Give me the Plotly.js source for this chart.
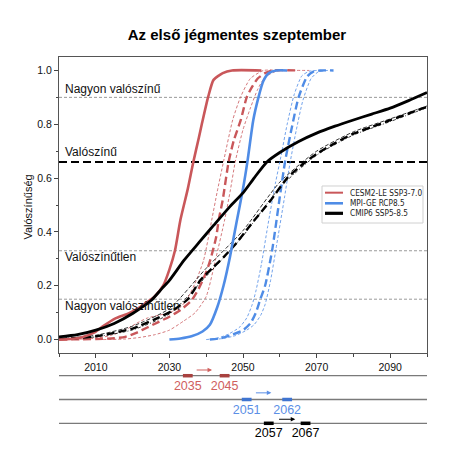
<!DOCTYPE html>
<html><head><meta charset="utf-8">
<script src="https://cdn.plot.ly/plotly-3.0.1.min.js"></script>
<style>html,body{margin:0;padding:0;background:#fff}#chart{width:474px;height:474px}</style>
</head><body><div id="chart"></div>
<script>
// ---- data ----
const cesmSolidX = [2000,2003,2006,2009.8,2012,2015.2,2018.9,2021,2023.4,2026,2028.3,2030,2031.5,2033,2035,2036.5,2038,2038.8,2040.5,2042,2044.5,2047,2055];
const cesmSolidY = [0,0.002,0.008,0.028,0.05,0.078,0.097,0.112,0.134,0.16,0.2,0.26,0.33,0.445,0.56,0.66,0.75,0.8,0.9,0.965,0.99,1.0,1.0];
const cesmDashX = [2000,2010,2015,2018,2021,2024,2027,2030,2033,2036,2038,2040,2041.1,2042.7,2043.4,2044.5,2046.1,2047.5,2049.4,2051,2052.5,2054,2056,2058,2064.7];
const cesmDashY = [0,0.002,0.005,0.01,0.025,0.045,0.065,0.085,0.11,0.145,0.19,0.25,0.295,0.38,0.444,0.52,0.661,0.74,0.816,0.9,0.94,0.97,0.99,1.0,1.0];
const cesmLoX = [2003,2010,2014,2018,2021,2024,2027,2030,2033,2035,2037,2039.3,2041.5,2043,2044.7,2047.2,2049.3,2052,2055.6,2060];
const cesmLoY = [0,0.005,0.015,0.035,0.06,0.08,0.09,0.1,0.12,0.155,0.21,0.295,0.444,0.55,0.661,0.816,0.9,0.97,1.0,1.0];
const cesmHiX = [2012,2018,2022,2026,2030,2034,2037,2040,2042.5,2045,2046.5,2047.9,2050,2052,2054,2056,2059,2062,2068];
const cesmHiY = [0,0.002,0.008,0.018,0.035,0.07,0.1,0.16,0.295,0.444,0.55,0.661,0.78,0.86,0.93,0.975,0.997,1.0,1.0];

const mpiSolidX = [2030,2033,2036,2039,2041,2043,2044.7,2046.5,2048.3,2050,2051.2,2052.8,2054.2,2055.5,2057,2059,2062];
const mpiSolidY = [0,0.004,0.012,0.03,0.055,0.12,0.2,0.31,0.44,0.56,0.661,0.816,0.9,0.96,0.99,1.0,1.0];
const mpiDashX = [2041,2044,2047,2050,2052,2053.5,2054.7,2056,2057.9,2060,2061.5,2063.3,2065.1,2067.4,2069,2071,2074.6];
const mpiDashY = [0,0.005,0.018,0.035,0.06,0.1,0.15,0.2,0.33,0.53,0.667,0.79,0.9,0.977,0.995,1.0,1.0];
const mpiLoX = [2040,2043,2046,2049,2051,2052.5,2053.5,2055,2056.7,2058.8,2060.3,2062,2063.9,2066,2068,2070,2073];
const mpiLoY = [0,0.005,0.02,0.045,0.08,0.13,0.18,0.28,0.42,0.58,0.68,0.8,0.91,0.98,0.997,1.0,1.0];
const mpiHiX = [2042,2045,2048,2051,2053,2054.8,2056,2057.5,2059,2061.3,2062.7,2064.5,2066.3,2068.5,2070.5,2073,2075];
const mpiHiY = [0,0.005,0.015,0.035,0.055,0.09,0.13,0.22,0.34,0.53,0.65,0.78,0.89,0.97,0.995,1.0,1.0];

const cmipSolidX = [2000,2005,2010,2015,2020,2025,2028,2030,2034,2038,2042,2046.5,2050,2053,2056.5,2060,2065,2070,2075,2080,2085,2090,2095,2100];
const cmipSolidY = [0.01,0.018,0.035,0.06,0.097,0.145,0.19,0.22,0.295,0.36,0.424,0.495,0.545,0.6,0.66,0.695,0.735,0.767,0.793,0.816,0.838,0.86,0.888,0.918];
const cmipDashX = [2000,2005,2010,2015,2020,2026,2031,2035,2038.4,2042,2045,2048.3,2052,2057.4,2062,2067,2070,2075,2080,2085,2090,2095,2100];
const cmipDashY = [0.002,0.006,0.012,0.025,0.041,0.075,0.109,0.15,0.22,0.27,0.31,0.36,0.425,0.515,0.6,0.66,0.69,0.73,0.765,0.79,0.815,0.84,0.865];
const cmipThinX = [2000,2010,2020,2030,2040,2050,2060,2070,2080,2090,2100];
const cmipThinAY = [0.003,0.016,0.05,0.115,0.265,0.405,0.585,0.7,0.772,0.82,0.868];
const cmipThinBY = [0.0,0.01,0.036,0.095,0.235,0.385,0.565,0.685,0.76,0.81,0.862];

const thresholds = [0.9, 0.66, 0.33, 0.15];
const thresholdLabels = ['Nagyon valószínű','Valószínű','Valószínűtlen','Nagyon valószínűtlen'];
const labelY = [0.930, 0.698, 0.305, 0.124];

const seriesNames = ['CESM2-LE SSP3-7.0','MPI-GE RCP8.5','CMIP6 SSP5-8.5'];
const firstYears = [[2035, 2045],[2051, 2062],[2057, 2067]];
const rowIndex = [3, 2, 1];
const arrowFrom = [2037.0, 2053.1, 2059.4];
const arrowTo = [2041.6, 2057.7, 2064.2];

const RED = '#c9575a', BLUE = '#4f8ce6', BLACK = '#000000';
const seriesColors = [RED, BLUE, BLACK];
const markColors = ['#a8413f','#3f74d0','#000000'];
const textColors = ['#d0605e','#5b8fe6','#000000'];

function line(x, y, color, width, dash, name){
  return {x:x, y:y, type:'scatter', mode:'lines', name:name||'', showlegend:false,
    line:{color:color, width:width, dash:dash||'solid', shape:'spline', smoothing:0.6},
    hoverinfo:'skip', xaxis:'x', yaxis:'y'};
}

const traces = [
  line(cesmLoX, cesmLoY, RED, 0.8, '3px,2px'),
  line(cesmHiX, cesmHiY, RED, 0.8, '3px,2px'),
  line(mpiLoX, mpiLoY, BLUE, 0.8, '3px,2px'),
  line(mpiHiX, mpiHiY, BLUE, 0.8, '3px,2px'),
  line(cmipThinX, cmipThinAY, BLACK, 0.8, '4px,2px'),
  line(cmipThinX, cmipThinBY, BLACK, 0.8, '3px,2px,1px,2px'),
  line(cesmDashX, cesmDashY, RED, 2.4, '8px,4px'),
  line(mpiDashX, mpiDashY, BLUE, 2.4, '8px,4px'),
  line(cmipDashX, cmipDashY, BLACK, 2.4, '8px,4px'),
  line(cesmSolidX, cesmSolidY, RED, 2.6, 'solid', seriesNames[0]),
  line(mpiSolidX, mpiSolidY, BLUE, 2.6, 'solid', seriesNames[1]),
  line(cmipSolidX, cmipSolidY, BLACK, 2.8, 'solid', seriesNames[2])
];

// timeline markers and labels
for (let i = 0; i < 3; i++) {
  traces.push({x:firstYears[i], y:firstYears[i].map(()=>rowIndex[i]), type:'scatter', mode:'markers',
    marker:{symbol:'line-ew', size:7, line:{color:markColors[i], width:3.5}},
    showlegend:false, hoverinfo:'skip', xaxis:'x2', yaxis:'y2', cliponaxis:false});
  traces.push({x:firstYears[i], y:firstYears[i].map(()=>rowIndex[i]-0.46), type:'scatter', mode:'text',
    text:firstYears[i].map(String), textposition:'middle center',
    textfont:{family:'Liberation Sans, Arial, sans-serif', size:12.5, color:textColors[i]},
    showlegend:false, hoverinfo:'skip', xaxis:'x2', yaxis:'y2', cliponaxis:false});
}

const shapes = [];
thresholds.forEach((t) => {
  const major = (t === 0.66);
  shapes.push({type:'line', xref:'x domain', yref:'y', x0:0, x1:1, y0:t, y1:t,
    line:{color: major ? '#000' : '#9a9a9a', width: major ? 2 : 1, dash: major ? '8px,4px' : '3px,2px'}, layer:'below'});
});
rowIndex.forEach(r => {
  shapes.push({type:'line', xref:'x2 domain', yref:'y2', x0:0, x1:1, y0:r, y1:r,
    line:{color:'#7a7a7a', width:1.3}, layer:'below'});
});

// manual compact legend (paper coords)
const legX0 = 0.7147, legX1 = 0.9891, legY0 = 0.571, legY1 = 0.6667;
const legRowY = [0.6494, 0.6220, 0.5961];
const legLineW = [2, 2.6, 3.2];
shapes.push({type:'rect', xref:'paper', yref:'paper', x0:legX0, x1:legX1, y0:legY0, y1:legY1,
  line:{color:'#d0d0d0', width:1}, fillcolor:'#fff', layer:'above'});
const annotations = [];
seriesNames.forEach((n, i) => {
  shapes.push({type:'line', xref:'paper', yref:'paper', x0:0.7228, x1:0.7717, y0:legRowY[i], y1:legRowY[i],
    line:{color:seriesColors[i], width:legLineW[i]}, layer:'above'});
  annotations.push({text:n, xref:'paper', yref:'paper', x:0.7845, y:legRowY[i], xanchor:'left', yanchor:'middle',
    showarrow:false, font:{family:'Liberation Sans Narrow, DejaVu Sans Condensed, Arial, sans-serif', size:8.2, color:'#222'}});
});

thresholdLabels.forEach((t, i) => annotations.push({
  text:t, xref:'x', yref:'y', x:2001, y:labelY[i], xanchor:'left', yanchor:'middle',
  showarrow:false, font:{family:'Liberation Sans, Arial, sans-serif', size:12, color:'#111'}
}));
for (let i = 0; i < 3; i++) {
  const yA = [3.24, 2.28, 1.17][i];
  annotations.push({text:'', xref:'x2', yref:'y2', axref:'x2', ayref:'y2',
    x:arrowTo[i], y:yA, ax:arrowFrom[i], ay:yA, showarrow:true,
    arrowhead:2, arrowsize:0.9, arrowwidth:1, arrowcolor: i===0 ? '#d0605e' : (i===1 ? '#5b8fe6' : '#000')});
}
// y-axis title
annotations.push({text:'Valószínűség', xref:'paper', yref:'paper', x:-0.083, y:0.612, xanchor:'center', yanchor:'middle',
  textangle:-90, showarrow:false, font:{family:'Liberation Sans, Arial, sans-serif', size:11, color:'#111'}});

const tickFont = {family:'Liberation Sans, Arial, sans-serif', size:10.5, color:'#111'};
const layout = {
  width:474, height:474,
  margin:{l:59, r:47, t:57, b:30},
  paper_bgcolor:'#fff', plot_bgcolor:'#fff',
  title:{text:'<b>Az első jégmentes szeptember</b>', x:0.5, xref:'container', y:1-35/474, yref:'container', yanchor:'middle',
    font:{family:'Liberation Sans, Arial, sans-serif', size:15, color:'#000'}},
  showlegend:false,
  xaxis:{range:[2000,2100], domain:[0,1], anchor:'y', tick0:2010, dtick:20, ticks:'outside', ticklen:4, tickcolor:'#444',
    minor:{tick0:2000, dtick:20, ticks:'outside', ticklen:3, tickcolor:'#444'},
    showline:true, mirror:true, linecolor:'#555', linewidth:1, showgrid:false, zeroline:false, tickfont:tickFont},
  yaxis:{range:[-0.05,1.05], domain:[0.2351,1], anchor:'x', dtick:0.2, tick0:0, tickformat:'.1f', ticks:'outside', ticklen:4, tickcolor:'#444',
    minor:{dtick:0.1, ticks:'outside', ticklen:2.5, tickcolor:'#444'},
    showline:true, mirror:true, linecolor:'#555', linewidth:1, showgrid:false, zeroline:false, tickfont:tickFont},
  xaxis2:{range:[2000,2100], domain:[0,1], anchor:'y2', visible:false, matches:'x'},
  yaxis2:{range:[0.13,3.954], domain:[0,0.2351], anchor:'x2', visible:false},
  shapes:shapes, annotations:annotations
};

Plotly.newPlot('chart', traces, layout, {displayModeBar:false, staticPlot:true});
</script></body></html>
